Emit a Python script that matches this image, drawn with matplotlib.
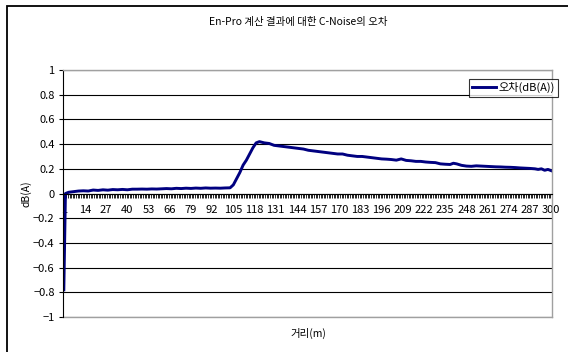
import numpy as np
import matplotlib
matplotlib.use("Agg")
import matplotlib.pyplot as plt
from matplotlib.patches import Rectangle
from matplotlib.ticker import FixedLocator

plt.rcParams['font.family'] = ['Noto Sans CJK KR', 'DejaVu Sans']

# 거리(m) / 오차(dB(A))
distance = [1, 2, 4, 7, 10, 13, 16, 19, 22, 25, 28, 31, 34, 37, 40, 43, 46, 49,
            52, 55, 58, 61, 64, 67, 70, 73, 76, 79, 82, 85, 88, 91, 94, 97, 100,
            103, 105, 107, 109, 111, 113, 115, 117, 119, 121, 124, 127, 130, 133,
            136, 139, 142, 145, 148, 151, 154, 157, 160, 163, 166, 169, 172, 175,
            178, 181, 184, 187, 190, 193, 196, 199, 202, 205, 208, 211, 214, 217,
            220, 223, 226, 229, 232, 235, 238, 240, 242, 245, 248, 251, 254, 257,
            260, 263, 266, 269, 272, 275, 278, 281, 284, 287, 290, 292, 294, 296,
            298, 300]
error = [-0.78, 0.0, 0.01, 0.015, 0.02, 0.022, 0.02, 0.028, 0.025, 0.03, 0.027,
         0.032, 0.03, 0.033, 0.03, 0.035, 0.035, 0.036, 0.035, 0.037, 0.036,
         0.038, 0.04, 0.038, 0.042, 0.04, 0.043, 0.041, 0.044, 0.042, 0.045,
         0.043, 0.044, 0.043, 0.045, 0.046, 0.07, 0.12, 0.17, 0.23, 0.27, 0.32,
         0.37, 0.41, 0.42, 0.41, 0.405, 0.39, 0.385, 0.38, 0.375, 0.37, 0.365,
         0.36, 0.35, 0.345, 0.34, 0.335, 0.33, 0.325, 0.32, 0.32, 0.31, 0.305,
         0.3, 0.3, 0.295, 0.29, 0.285, 0.28, 0.278, 0.275, 0.27, 0.28, 0.268,
         0.265, 0.26, 0.26, 0.255, 0.252, 0.25, 0.24, 0.237, 0.235, 0.245, 0.24,
         0.228, 0.222, 0.22, 0.224, 0.222, 0.22, 0.218, 0.216, 0.215, 0.213,
         0.212, 0.21, 0.207, 0.205, 0.203, 0.2, 0.195, 0.2, 0.188, 0.195, 0.185]

x_labels = list(range(1, 301, 13))
y_ticks = [-1, -0.8, -0.6, -0.4, -0.2, 0, 0.2, 0.4, 0.6, 0.8, 1]

fig = plt.figure(figsize=(5.68, 3.52), dpi=100)
ax = fig.add_axes([63 / 568, 1 - 317 / 352, (552 - 63) / 568, (317 - 70) / 352])

ax.plot(distance, error, color='#000080', lw=2.1, label='오차(dB(A))')

ax.set_xlim(0.5, 300.5)
ax.set_ylim(-1, 1)
ax.set_yticks(y_ticks)
ax.set_yticklabels([f'{v:g}'.replace('-', '−') for v in y_ticks])
ax.yaxis.grid(True, color='black', lw=0.8)
ax.set_axisbelow(True)

ax.set_xticks(x_labels)
ax.set_xticklabels([str(v) for v in x_labels])
ax.xaxis.set_minor_locator(FixedLocator(np.arange(0.5, 301, 1)))
ax.tick_params(axis='x', which='major', length=0, labelsize=8, pad=8)
ax.tick_params(axis='x', which='minor', length=3, width=0.6, direction='out')
ax.tick_params(axis='y', length=3, labelsize=8, pad=3)

ax.spines['bottom'].set_position(('data', 0))
ax.spines['bottom'].set_color('black')
ax.spines['left'].set_color('black')
for s in ('top', 'right'):
    ax.spines[s].set_color('#a0a0a0')
    ax.spines[s].set_linewidth(1.0)
ax.plot([0, 1], [0, 0], transform=ax.transAxes, color='#a0a0a0', lw=1.0, clip_on=False)

ax.set_ylabel('dB(A)', fontsize=7.5, labelpad=1)
fig.text(308 / 568, 1 - 333 / 352, '거리(m)', ha='center', va='center', fontsize=7.5)
fig.text(298 / 568, 1 - 22 / 352, 'En-Pro 계산 결과에 대한 C-Noise의 오차',
         ha='center', va='center', fontsize=7.5)

leg = ax.legend(loc='upper left', bbox_to_anchor=(469 / 568, 1 - 79 / 352),
                bbox_transform=fig.transFigure, fontsize=8, frameon=True,
                fancybox=False, handlelength=2.1, handletextpad=0.25,
                borderpad=0.3, borderaxespad=0)
leg.get_frame().set_edgecolor('black')
leg.get_frame().set_linewidth(0.8)

fig.patches.append(Rectangle((7 / 568, -0.1), 1.2, 1.1 - 6 / 352,
                             transform=fig.transFigure, fill=False,
                             edgecolor='black', lw=1.3))

fig.savefig('out.png', dpi=100)
